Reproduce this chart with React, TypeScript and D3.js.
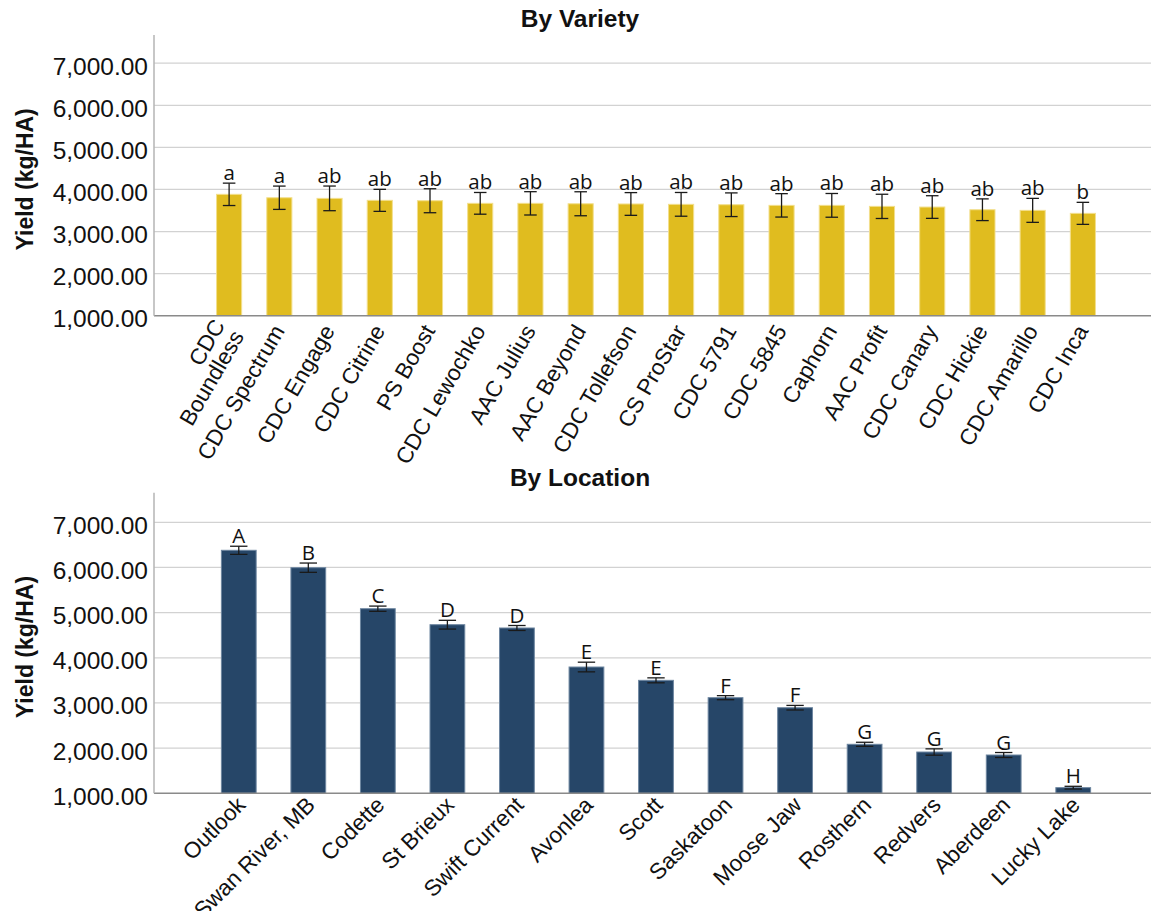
import React from "react";
import * as d3 from "d3";

const varieties = [
  "CDC\nBoundless", "CDC Spectrum", "CDC Engage", "CDC Citrine", "PS Boost", "CDC Lewochko",
  "AAC Julius", "AAC Beyond", "CDC Tollefson", "CS ProStar", "CDC 5791", "CDC 5845",
  "Caphorn", "AAC Profit", "CDC Canary", "CDC Hickie", "CDC Amarillo", "CDC Inca",
];
const varietyMeans = [3884, 3803, 3788, 3741, 3732, 3670, 3670, 3660, 3655, 3646, 3637, 3622, 3622, 3598, 3582, 3518, 3503, 3432];
const varietyErrors = [266, 277, 293, 262, 285, 258, 277, 285, 270, 282, 281, 278, 282, 288, 269, 258, 285, 262];
const varietyLetters = ["a", "a", "ab", "ab", "ab", "ab", "ab", "ab", "ab", "ab", "ab", "ab", "ab", "ab", "ab", "ab", "ab", "b"];

const locations = [
  "Outlook", "Swan River, MB", "Codette", "St Brieux", "Swift Current", "Avonlea", "Scott",
  "Saskatoon", "Moose Jaw", "Rosthern", "Redvers", "Aberdeen", "Lucky Lake",
];
const locationMeans = [6380, 5995, 5087, 4733, 4660, 3796, 3501, 3117, 2895, 2085, 1914, 1848, 1125];
const locationErrors = [90, 103, 58, 97, 55, 107, 55, 45, 51, 45, 70, 55, 30];
const locationLetters = ["A", "B", "C", "D", "D", "E", "E", "F", "F", "G", "G", "G", "H"];

const yTicks = [1000, 2000, 3000, 4000, 5000, 6000, 7000];
const fmt = d3.format(",.2f");

type PanelProps = {
  title: string;
  titleY: number;
  cats: string[];
  means: number[];
  errs: number[];
  letters: string[];
  fill: string;
  edge: string;
  y0: number;
  y7: number;
  axisTop: number;
  angle: number;
  labelSize: number;
  labelDx: number;
  labelDy: number;
  lineGap: number;
};

const AXIS_X = 154;
const RIGHT = 1151;
const SANS = "Liberation Sans, Arial, sans-serif";

function Panel(p: PanelProps) {
  const x = d3.scaleBand<string>().domain(p.cats).range([204, 1108]).padding(0);
  const y = d3.scaleLinear().domain([1000, 7000]).range([p.y0, p.y7]);
  const bw = x.bandwidth() * 0.5;
  const capW = bw * 0.5;
  return (
    <g>
      <text x={580} y={p.titleY} textAnchor="middle" fontFamily={SANS} fontWeight="bold" fontSize={24.5} fill="#111">
        {p.title}
      </text>
      {yTicks.map((t) => (
        <g key={t}>
          {t > 1000 && <line x1={AXIS_X} x2={RIGHT} y1={y(t)} y2={y(t)} stroke="#d2d2d2" strokeWidth={1.3} />}
          <text x={148} y={y(t) + 11.5} textAnchor="end" fontFamily={SANS} fontSize={24.5} fill="#111">
            {fmt(t)}
          </text>
        </g>
      ))}
      <text
        transform={`translate(33,${(p.axisTop + p.y0) / 2 + 4}) rotate(-90)`}
        textAnchor="middle"
        fontFamily={SANS}
        fontWeight="bold"
        fontSize={23}
        fill="#111"
      >
        Yield (kg/HA)
      </text>
      {p.cats.map((c, i) => {
        const cx = (x(c) as number) + x.bandwidth() / 2;
        const top = y(p.means[i]);
        const eHi = y(p.means[i] + p.errs[i]);
        const eLo = y(p.means[i] - p.errs[i]);
        const lines = c.split("\n");
        return (
          <g key={c}>
            <rect x={cx - bw / 2} y={top} width={bw} height={p.y0 - top} fill={p.fill} stroke={p.edge} strokeWidth={1} />
            <line x1={cx} x2={cx} y1={eHi} y2={eLo} stroke="#1a1a1a" strokeWidth={1.3} />
            <line x1={cx - capW / 2} x2={cx + capW / 2} y1={eHi} y2={eHi} stroke="#1a1a1a" strokeWidth={1.3} />
            <line x1={cx - capW / 2} x2={cx + capW / 2} y1={eLo} y2={eLo} stroke="#1a1a1a" strokeWidth={1.3} />
            <text x={cx} y={eHi - 3} textAnchor="middle" fontFamily="Open Sans, Noto Sans, sans-serif" fontSize={20.5} fill="#111">
              {p.letters[i]}
            </text>
            <text
              transform={`translate(${cx + p.labelDx},${p.y0 + p.labelDy}) rotate(${p.angle})`}
              textAnchor="end"
              fontFamily={SANS}
              fontSize={p.labelSize}
              fill="#111"
            >
              {lines.map((ln, k) => (
                <tspan key={k} x={0} y={(k - (lines.length - 1) / 2) * p.lineGap}>
                  {ln}
                </tspan>
              ))}
            </text>
          </g>
        );
      })}
      <line x1={AXIS_X} x2={RIGHT} y1={p.y0} y2={p.y0} stroke="#8a8a8a" strokeWidth={1.5} />
      <line x1={AXIS_X} x2={AXIS_X} y1={p.axisTop} y2={p.y0} stroke="#b5b5b5" strokeWidth={1.5} />
    </g>
  );
}

export default function App() {
  return (
    <svg width={1151} height={911} style={{ position: "absolute", left: 0, top: 0, background: "#fff" }}>
      <rect width={1151} height={911} fill="#fff" />
      <Panel
        title="By Variety"
        titleY={27}
        cats={varieties}
        means={varietyMeans}
        errs={varietyErrors}
        letters={varietyLetters}
        fill="#e0bc1f"
        edge="#f3df8c"
        y0={315.7}
        y7={63.2}
        axisTop={35}
        angle={-60}
        labelSize={22.5}
        labelDx={6}
        labelDy={15}
        lineGap={22}
      />
      <Panel
        title="By Location"
        titleY={486}
        cats={locations}
        means={locationMeans}
        errs={locationErrors}
        letters={locationLetters}
        fill="#264668"
        edge="#6d86a0"
        y0={793.3}
        y7={522.3}
        axisTop={492.7}
        angle={-45}
        labelSize={22.5}
        labelDx={8}
        labelDy={13}
        lineGap={22}
      />
    </svg>
  );
}
